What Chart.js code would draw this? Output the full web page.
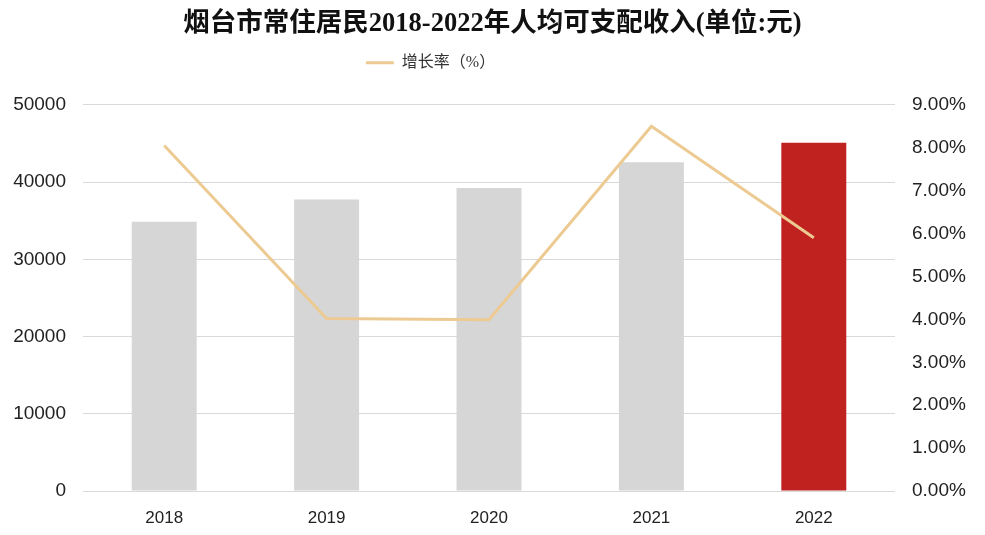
<!DOCTYPE html>
<html>
<head>
<meta charset="utf-8">
<script src="https://cdn.jsdelivr.net/npm/chart.js@4.4.1/dist/chart.umd.min.js"></script>
<style>
	html, body { margin: 0; padding: 0; background: #fff; }
	#wrap { width: 985px; height: 535px; position: relative; }
</style>
</head>
<body>
<div id="wrap"><canvas id="chart-income"></canvas></div>
<script>
// Data
const YEARS = ["2018", "2019", "2020", "2021", "2022"];
const INCOME = [34850, 37730, 39240, 42550, 45090];
const GROWTH = [8.05, 4.02, 3.99, 8.5, 5.9];
const BAR_COLORS = ["#d6d6d6", "#d6d6d6", "#d6d6d6", "#d6d6d6", "#c0221f"];

const TICK_FONT = { family: "Liberation Sans, Arial, sans-serif", size: 19 };

// Extra space under the legend + shift it a bit to the left, like the original
const legendTweak = {
	id: "legendTweak",
	beforeInit(chart) {
		const fit = chart.legend.fit;
		chart.legend.fit = function () {
			fit.bind(chart.legend)();
			this.height += 24;
		};
	},
	afterLayout(chart) {
		chart.legend.left -= 62;
		chart.legend.right -= 62;
	},
};

const CHART_DATA = {
	labels: YEARS,
	datasets: [
		{
			type: "line",
			label: "增长率（%）",
			data: GROWTH,
			yAxisID: "y1",
			borderColor: "#ecca91",
			backgroundColor: "#ecca91",
			borderWidth: 3,
			pointRadius: 0,
			tension: 0,
			order: 0,
		},
		{
			type: "bar",
			label: "人均可支配收入",
			data: INCOME,
			yAxisID: "y",
			backgroundColor: BAR_COLORS,
			borderWidth: 0,
			barPercentage: 0.4,
			categoryPercentage: 1,
			order: 1,
		},
	],
};

const CHART_CONFIG = {
	data: CHART_DATA,
	plugins: [legendTweak],
	options: {
		responsive: true,
		maintainAspectRatio: false,
		animation: false,
		layout: {
			padding: { left: 0, right: 0, top: 6, bottom: 0 },
		},
		scales: {
			x: {
				offset: true,
				border: { display: false },
				grid: { display: false },
				ticks: {
					font: { family: "Liberation Sans, Arial, sans-serif", size: 17 },
					color: "#222",
					padding: 9,
				},
				afterFit: (scale) => {
					scale.height = 44;
				},
			},
			y: {
				position: "left",
				min: 0,
				max: 50000,
				border: { display: false },
				grid: { color: "#d9d9d9", lineWidth: 1, drawTicks: false },
				ticks: {
					stepSize: 10000,
					font: TICK_FONT,
					color: "#222",
					padding: 17,
					callback: (v) => String(v),
				},
				afterFit: (scale) => {
					scale.width = 83;
				},
			},
			y1: {
				position: "right",
				min: 0,
				max: 9,
				border: { display: false },
				grid: { display: false, drawTicks: false },
				ticks: {
					stepSize: 1,
					font: TICK_FONT,
					color: "#222",
					padding: 17,
					callback: (v) => v.toFixed(2) + "%",
				},
				afterFit: (scale) => {
					scale.width = 90;
				},
			},
		},
		plugins: {
			title: {
				display: true,
				text: "烟台市常住居民2018-2022年人均可支配收入(单位:元)",
				font: { family: "Liberation Serif, 'Noto Sans CJK SC', serif", size: 26.5, weight: "bold" },
				color: "#111",
				padding: { top: 2, bottom: 1 },
			},
			legend: {
				display: true,
				labels: {
					filter: (item) => item.datasetIndex === 0,
					usePointStyle: true,
					pointStyle: "line",
					pointStyleWidth: 28,
					font: { family: "Liberation Serif, 'Noto Sans CJK SC', serif", size: 16 },
					color: "#333",
					padding: 14,
				},
			},
			tooltip: { enabled: false },
		},
	},
};

const CHART_WRAPPER = document.getElementById("chart-income");
if (CHART_WRAPPER) {
	new Chart(CHART_WRAPPER, CHART_CONFIG);
}
</script>
</body>
</html>
